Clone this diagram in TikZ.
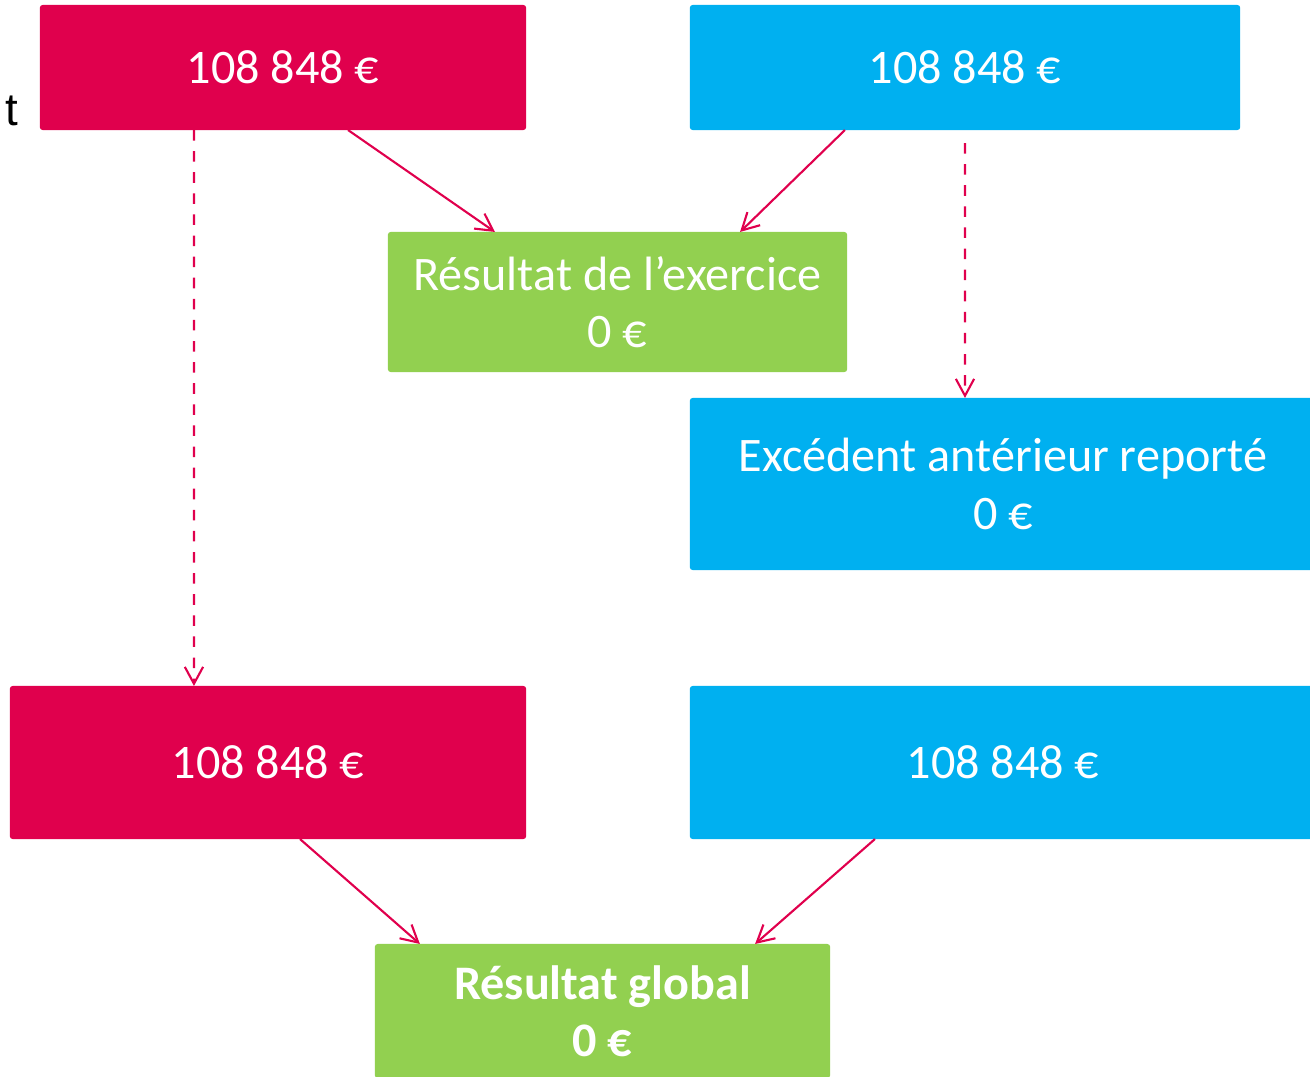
\documentclass[tikz,border=0pt]{standalone}
\usepackage{fontspec}
\setmainfont{Carlito}
\newfontfamily\leftfont{Liberation Sans}
\usetikzlibrary{arrows.meta}
\definecolor{rouge}{HTML}{E0004D}
\definecolor{bleu}{HTML}{00B0F0}
\definecolor{vert}{HTML}{92D050}
\begin{document}
\begin{tikzpicture}[x=0.01cm, y=-0.01cm,
	box/.style={rectangle, rounded corners=0.8pt, inner sep=0pt, outer sep=0pt, text=white, align=center, font=\fontsize{13.7pt}{16.3pt}\selectfont},
	arr/.style={draw=rouge, line width=0.6pt, -{Straight Barb[length=4.8pt, width=5.2pt]}}]
	\useasboundingbox (0, 0) rectangle (1310, 1076);
	\node[anchor=base east, inner sep=0pt, font=\leftfont\fontsize{13pt}{15pt}\selectfont] (t) at (19, 126) {t};
	\node[box, fill=rouge, minimum width=4.86cm, minimum height=1.25cm] (0) at (283, 67.5) {108 848 €};
	\node[box, fill=bleu, minimum width=5.5cm, minimum height=1.25cm] (1) at (965, 67.5) {108 848 €};
	\node[box, fill=vert, minimum width=4.59cm, minimum height=1.4cm] (2) at (617.5, 302) {Résultat de l’exercice\\0 €};
	\node[box, fill=bleu, minimum width=6.26cm, minimum height=1.72cm] (3) at (1003, 484) {Excédent antérieur reporté\\0 €};
	\node[box, fill=rouge, minimum width=5.16cm, minimum height=1.53cm] (4) at (268, 762.5) {108 848 €};
	\node[box, fill=bleu, minimum width=6.26cm, minimum height=1.53cm] (5) at (1003, 762.5) {108 848 €};
	\node[box, fill=vert, minimum width=4.55cm, minimum height=1.34cm, font=\bfseries\fontsize{13.7pt}{16.3pt}\selectfont] (6) at (602.5, 1011) {Résultat global\\0 €};
	\draw[arr] ([xshift=0.65cm]0.south) to ([xshift=-1.225cm]2.north);
	\draw[arr] ([xshift=-1.2cm]1.south) to ([xshift=1.225cm]2.north);
	\draw[arr, dashed] ([xshift=-0.89cm]0.south) to ([xshift=-0.74cm]4.north);
	\draw[arr, dashed] ([yshift=-0.13cm]1.south) to ([xshift=-0.38cm]3.north);
	\draw[arr] ([xshift=0.32cm]4.south) to ([xshift=-1.825cm]6.north);
	\draw[arr] ([xshift=-1.28cm]5.south) to ([xshift=1.525cm]6.north);
\end{tikzpicture}
\end{document}
